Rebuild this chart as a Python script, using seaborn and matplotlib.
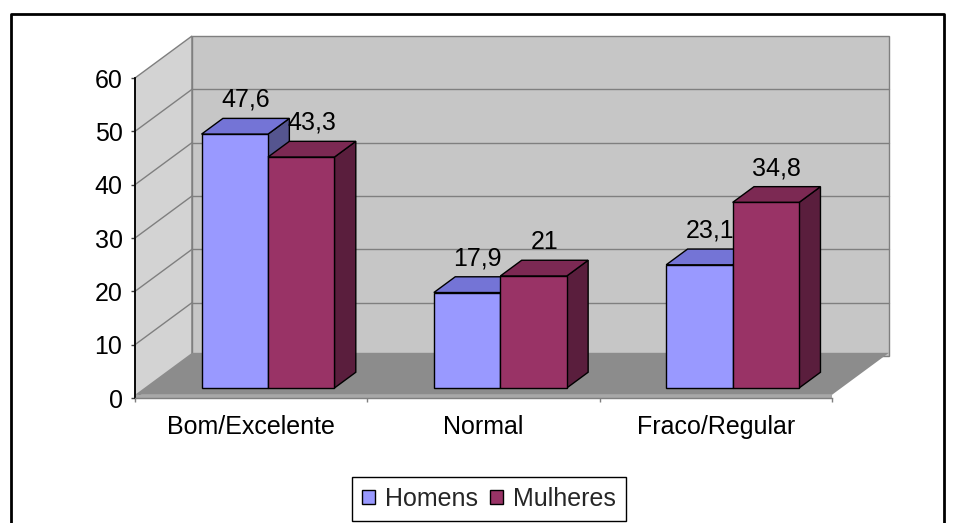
import matplotlib
matplotlib.use("Agg")
import matplotlib.pyplot as plt
from matplotlib.patches import Polygon, Patch
from matplotlib.lines import Line2D
import seaborn as sns
import pandas as pd

# Data
categorias = ["Bom/Excelente", "Normal", "Fraco/Regular"]
homens = [47.6, 17.9, 23.1]
mulheres = [43.3, 21.0, 34.8]
series = ["Homens", "Mulheres"]
yticks = [0, 10, 20, 30, 40, 50, 60]

df = pd.DataFrame({
    "categoria": categorias * 2,
    "valor": homens + mulheres,
    "sexo": [series[0]] * len(categorias) + [series[1]] * len(categorias),
})

# Styling
sns.set_theme(style="white")
plt.rcParams["font.family"] = ["Liberation Sans", "DejaVu Sans"]
FS = 18

front_col = {"Homens": "#9999FF", "Mulheres": "#993366"}
top_col = {"Homens": "#7474D6", "Mulheres": "#7C2953"}
side_col = {"Homens": "#55558F", "Mulheres": "#5A1E3D"}
wall_col = "#C6C6C6"
side_wall_col = "#D3D3D3"
floor_col = "#8C8C8C"
floor_edge_col = "#A8A8A8"
grid_col = "#7F7F7F"

# Oblique depth of the 3-D box (data units for a full depth step)
DX, DY = 0.2453, 7.875
F0, F1 = 0.238, 0.613  # front / back depth of the columns
BAR_DX = 0.014         # extra sideways nudge of the columns
YMAX = 60


def proj(x, v, f):
    return (x + f * DX, v + f * DY)


fig = plt.figure(figsize=(9.56, 5.23), dpi=100)
ax = fig.add_axes([135 / 956, (523 - 398) / 523, 697 / 956, 320 / 523])
ax.set_facecolor("none")

sns.barplot(data=df, x="categoria", y="valor", hue="sexo", order=categorias,
            hue_order=series, palette=front_col, saturation=1, width=0.572,
            edgecolor="black", linewidth=1.0, legend=False, ax=ax)
ax.set_xlim(-0.5, len(categorias) - 0.5)
ax.set_ylim(0, YMAX)
x_lo, x_hi = ax.get_xlim()

# Walls and floor
left_wall = [proj(x_lo, 0, 0), proj(x_lo, 0, 1), proj(x_lo, YMAX, 1), proj(x_lo, YMAX, 0)]
back_wall = [proj(x_lo, 0, 1), proj(x_hi, 0, 1), proj(x_hi, YMAX, 1), proj(x_lo, YMAX, 1)]
ax.add_patch(Polygon(left_wall, closed=True, facecolor=side_wall_col, edgecolor=grid_col,
                     linewidth=1, clip_on=False, zorder=0.5))
ax.add_patch(Polygon(back_wall, closed=True, facecolor=wall_col, edgecolor=grid_col,
                     linewidth=1, clip_on=False, zorder=0.5))
for v in yticks[1:-1]:
    ax.add_line(Line2D(*zip(proj(x_lo, v, 1), proj(x_hi, v, 1)), color=grid_col,
                       linewidth=1, clip_on=False, zorder=0.6))
    ax.add_line(Line2D(*zip(proj(x_lo, v, 0), proj(x_lo, v, 1)), color=grid_col,
                       linewidth=1, clip_on=False, zorder=0.6))

slab = 0.6
floor = [proj(x_lo, slab, 0), proj(x_hi, slab, 0), proj(x_hi, slab, 1), proj(x_lo, slab, 1)]
ax.add_patch(Polygon(floor, closed=True, facecolor=floor_col, edgecolor="none",
                     clip_on=False, zorder=0.8))
floor_front = [proj(x_lo, 0, 0), proj(x_hi, 0, 0), proj(x_hi, slab, 0), proj(x_lo, slab, 0)]
ax.add_patch(Polygon(floor_front, closed=True, facecolor=floor_edge_col, edgecolor="none",
                     clip_on=False, zorder=0.8))

# Columns: shift the front faces into the box and add top and side faces
for h_idx, (name, container) in enumerate(zip(series, ax.containers)):
    for c_idx, bar in enumerate(container.patches):
        x0, w, h = bar.get_x() + BAR_DX, bar.get_width(), bar.get_height()
        z = 3 + c_idx * 2 + h_idx * 0.9
        side = [proj(x0 + w, 0, F0), proj(x0 + w, 0, F1), proj(x0 + w, h, F1), proj(x0 + w, h, F0)]
        top = [proj(x0, h, F0), proj(x0 + w, h, F0), proj(x0 + w, h, F1), proj(x0, h, F1)]
        ax.add_patch(Polygon(side, closed=True, facecolor=side_col[name], edgecolor="black",
                             linewidth=1.0, clip_on=False, zorder=z))
        ax.add_patch(Polygon(top, closed=True, facecolor=top_col[name], edgecolor="black",
                             linewidth=1.0, clip_on=False, zorder=z))
        fx, fy = proj(x0, 0, F0)
        bar.set_x(fx)
        bar.set_y(fy)
        bar.set_zorder(z + 0.1)
        bar.set_clip_on(False)
        label = f"{h:g}".replace(".", ",")
        ax.annotate(label, xy=proj(x0 + w / 2, h, (F0 + F1) / 2), xytext=(0, 19.5),
                    textcoords="offset pixels", ha="center", va="baseline",
                    fontsize=FS, color="black", zorder=20, annotation_clip=False)

# Axes
for s in ["top", "right"]:
    ax.spines[s].set_visible(False)
ax.spines["left"].set_color("black")
ax.spines["left"].set_linewidth(1.3)
ax.spines["bottom"].set_color(grid_col)
ax.spines["bottom"].set_linewidth(1.0)
ax.set_yticks(yticks)
ax.set_yticklabels([str(t) for t in yticks])
ax.set_xticks(range(len(categorias)))
ax.set_xticklabels(categorias)
ax.set_xticks([i - 0.5 for i in range(len(categorias) + 1)], minor=True)
ax.tick_params(axis="y", left=True, length=3, width=1, color="#404040", pad=6,
               labelsize=FS, labelcolor="black")
ax.tick_params(axis="x", which="major", bottom=True, length=0, pad=12,
               labelsize=FS, labelcolor="black")
ax.tick_params(axis="x", which="minor", bottom=True, length=3, width=1, color=grid_col)
ax.set_xlabel("")
ax.set_ylabel("")

# Legend
handles = [Patch(facecolor=front_col[s], edgecolor="black", linewidth=1) for s in series]
leg = fig.legend(handles, series, loc="center", bbox_to_anchor=(489 / 956, 1 - 498.5 / 523),
                 ncol=2, frameon=True, fancybox=False, framealpha=1, edgecolor="black",
                 handlelength=0.5, handleheight=0.5, handletextpad=0.4,
                 columnspacing=0.5, borderpad=0.4, borderaxespad=0, fontsize=FS)
leg.get_frame().set_linewidth(1.0)

# Chart frame
fl, fr, ft = 10.5 / 956, 944 / 956, 1 - 14 / 523
fig.add_artist(Line2D([fl, fl, fr, fr], [0, ft, ft, 0], transform=fig.transFigure,
                      color="black", linewidth=2))

fig.savefig("out.png", dpi=100)
